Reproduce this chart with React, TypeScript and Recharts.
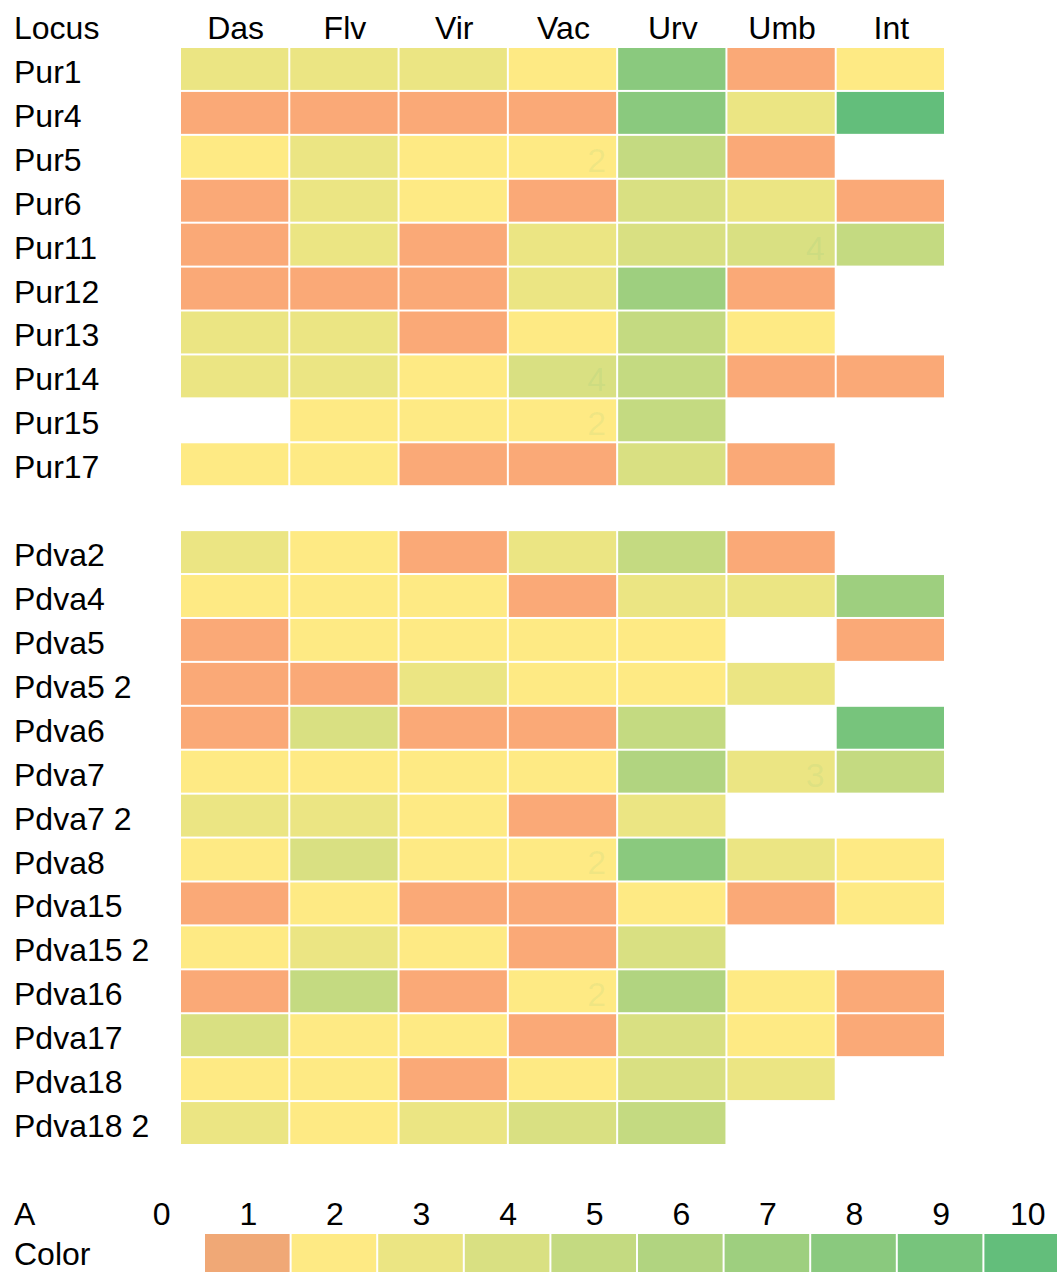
import { Scatter, ScatterChart, XAxis, YAxis } from "recharts";

// Allele counts per locus and population, shown as an Excel-style colour grid.

const COLUMNS = ["Das", "Flv", "Vir", "Vac", "Urv", "Umb", "Int"];

const PUR_LOCI = ["Pur1", "Pur4", "Pur5", "Pur6", "Pur11", "Pur12", "Pur13", "Pur14", "Pur15", "Pur17"];
const PUR_VALUES = [
  [3, 3, 3, 2, 8, 1, 2],
  [1, 1, 1, 1, 8, 3, 10],
  [2, 3, 2, 2, 5, 1, null],
  [1, 3, 2, 1, 4, 3, 1],
  [1, 3, 1, 3, 4, 4, 5],
  [1, 1, 1, 3, 7, 1, null],
  [3, 3, 1, 2, 5, 2, null],
  [3, 3, 2, 4, 5, 1, 1],
  [null, 2, 2, 2, 5, null, null],
  [2, 2, 1, 1, 4, 1, null],
];

const PDVA_LOCI = [
  "Pdva2", "Pdva4", "Pdva5", "Pdva5 2", "Pdva6", "Pdva7", "Pdva7 2",
  "Pdva8", "Pdva15", "Pdva15 2", "Pdva16", "Pdva17", "Pdva18", "Pdva18 2",
];
const PDVA_VALUES = [
  [3, 2, 1, 3, 5, 1, null],
  [2, 2, 2, 1, 3, 3, 7],
  [1, 2, 2, 2, 2, null, 1],
  [1, 1, 3, 2, 2, 3, null],
  [1, 4, 1, 1, 5, null, 9],
  [2, 2, 2, 2, 6, 3, 5],
  [3, 3, 2, 1, 3, null, null],
  [2, 4, 2, 2, 8, 3, 2],
  [1, 2, 1, 1, 2, 1, 2],
  [2, 3, 2, 1, 4, null, null],
  [1, 5, 1, 2, 6, 2, 1],
  [4, 2, 2, 1, 4, 2, 1],
  [2, 2, 1, 2, 4, 3, null],
  [3, 2, 3, 4, 5, null, null],
];

// cells whose number is still faintly visible
const SHOWN_VALUES = [
  ["Pur5", "Vac"], ["Pur11", "Umb"], ["Pur14", "Vac"], ["Pur15", "Vac"],
  ["Pdva7", "Umb"], ["Pdva8", "Vac"], ["Pdva16", "Vac"],
];

const LEGEND_STEPS = [0, 1, 2, 3, 4, 5, 6, 7, 8, 9, 10];
const SCALE_COLORS = [
  null, "#FAA977", "#FEEA84", "#EBE583", "#D9E082", "#C4DA81",
  "#B1D480", "#9ECF7F", "#8AC97E", "#77C47C", "#63BE7B",
];
const LEGEND_COLORS = [
  null, "#F0A876", "#FEEA84", "#EBE583", "#D9E082", "#C4DA81",
  "#B1D480", "#9ECF7F", "#8AC97E", "#77C47C", "#63BE7B",
];

const FONT = "'Liberation Sans', Arial, Helvetica, sans-serif";
const FONT_SIZE = 32;
const LABEL_X = 14;

// layout of the main grid
const CHART_W = 1057;
const CHART_H = 1190;
const LEFT = 181;
const HEADER_H = 48;
const RIGHT = 111;
const BOTTOM = 44;
const PLOT_W = CHART_W - LEFT - RIGHT;
const PLOT_H = CHART_H - HEADER_H - BOTTOM;

const ROW_LABELS = [...PUR_LOCI, "", ...PDVA_LOCI];
const ROW_VALUES = [...PUR_VALUES, COLUMNS.map(() => null), ...PDVA_VALUES];
const CELL_W = PLOT_W / COLUMNS.length;
const CELL_H = PLOT_H / ROW_LABELS.length;

const cells = ROW_VALUES.flatMap((vals, r) =>
  vals
    .map((v, c) => ({
      x: c,
      y: r,
      v,
      shown: SHOWN_VALUES.some(([l, col]) => l === ROW_LABELS[r] && col === COLUMNS[c]),
    }))
    .filter((d) => d.v !== null)
);

// legend layout
const LEG_W = 1071;
const LEG_LEFT = 118.4;
const LEG_ROW_H = 44;
const LEG_CELL_W = (LEG_W - LEG_LEFT) / LEGEND_STEPS.length;
const LEGEND_ROWS = ["A", "Color"];
const legendNumbers = LEGEND_STEPS.map((s) => ({ x: s, y: 0 }));
const legendCells = LEGEND_STEPS.filter((s) => LEGEND_COLORS[s]).map((s) => ({ x: s, y: 1 }));

function GridCell(props: any) {
  const { cx, cy, payload } = props;
  const left = cx - CELL_W / 2;
  const top = cy - CELL_H / 2;
  return (
    <g>
      <rect x={left} y={top} width={CELL_W - 2} height={CELL_H - 2} fill={SCALE_COLORS[payload.v] as string} />
      {payload.shown && (
        <text
          x={left + CELL_W - 12}
          y={top + CELL_H - 8}
          textAnchor="end"
          fontSize={34}
          fill="#63BE7B"
          fillOpacity={0.1}
        >
          {payload.v}
        </text>
      )}
    </g>
  );
}

function RowTick(props: any) {
  const { y, payload } = props;
  return (
    <text x={LABEL_X} y={y + 13} fontSize={FONT_SIZE} fill="#000">
      {ROW_LABELS[payload.value]}
    </text>
  );
}

function ColumnTick(props: any) {
  const { x, payload } = props;
  return (
    <text x={x} y={39} textAnchor="middle" fontSize={FONT_SIZE} fill="#000">
      {COLUMNS[payload.value]}
    </text>
  );
}

function LegendRowTick(props: any) {
  const { y, payload } = props;
  return (
    <text x={LABEL_X} y={y + (payload.value === 0 ? 13 : 9)} fontSize={FONT_SIZE} fill="#000">
      {LEGEND_ROWS[payload.value]}
    </text>
  );
}

function LegendNumber(props: any) {
  const { cx, cy, payload } = props;
  return (
    <text x={cx} y={cy + 13} textAnchor="middle" fontSize={FONT_SIZE} fill="#000">
      {LEGEND_STEPS[payload.x]}
    </text>
  );
}

function LegendCell(props: any) {
  const { cx, cy, payload } = props;
  return (
    <rect
      x={cx - LEG_CELL_W / 2}
      y={cy - LEG_ROW_H / 2}
      width={LEG_CELL_W - 2}
      height={LEG_ROW_H - 2}
      fill={LEGEND_COLORS[payload.x] as string}
    />
  );
}

export default function App() {
  return (
    <div
      style={{
        position: "absolute",
        left: 0,
        top: 0,
        width: 1057,
        height: 1272,
        overflow: "hidden",
        background: "#fff",
        fontFamily: FONT,
      }}
    >
      <ScatterChart
        width={CHART_W}
        height={CHART_H}
        margin={{ top: 0, right: RIGHT, bottom: BOTTOM, left: 0 }}
      >
        <XAxis
          type="number"
          dataKey="x"
          orientation="top"
          height={HEADER_H}
          domain={[-0.5, COLUMNS.length - 0.5]}
          ticks={COLUMNS.map((_, i) => i)}
          interval={0}
          axisLine={false}
          tickLine={false}
          tick={<ColumnTick />}
          label={{
            content: () => (
              <text x={LABEL_X} y={39} fontSize={FONT_SIZE} fill="#000">
                Locus
              </text>
            ),
          }}
        />
        <YAxis
          type="number"
          dataKey="y"
          width={LEFT}
          reversed
          domain={[-0.5, ROW_LABELS.length - 0.5]}
          ticks={ROW_LABELS.map((_, i) => i)}
          interval={0}
          axisLine={false}
          tickLine={false}
          tick={<RowTick />}
        />
        <Scatter data={cells} shape={<GridCell />} isAnimationActive={false} />
      </ScatterChart>

      <div style={{ position: "absolute", left: 0, top: CHART_H }}>
        <ScatterChart
          width={LEG_W}
          height={LEG_ROW_H * 2}
          margin={{ top: 0, right: 0, bottom: 0, left: 0 }}
        >
          <XAxis type="number" dataKey="x" hide domain={[-0.5, LEGEND_STEPS.length - 0.5]} />
          <YAxis
            type="number"
            dataKey="y"
            width={LEG_LEFT}
            reversed
            domain={[-0.5, 1.5]}
            ticks={[0, 1]}
            interval={0}
            axisLine={false}
            tickLine={false}
            tick={<LegendRowTick />}
          />
          <Scatter data={legendNumbers} shape={<LegendNumber />} isAnimationActive={false} />
          <Scatter data={legendCells} shape={<LegendCell />} isAnimationActive={false} />
        </ScatterChart>
      </div>
    </div>
  );
}
